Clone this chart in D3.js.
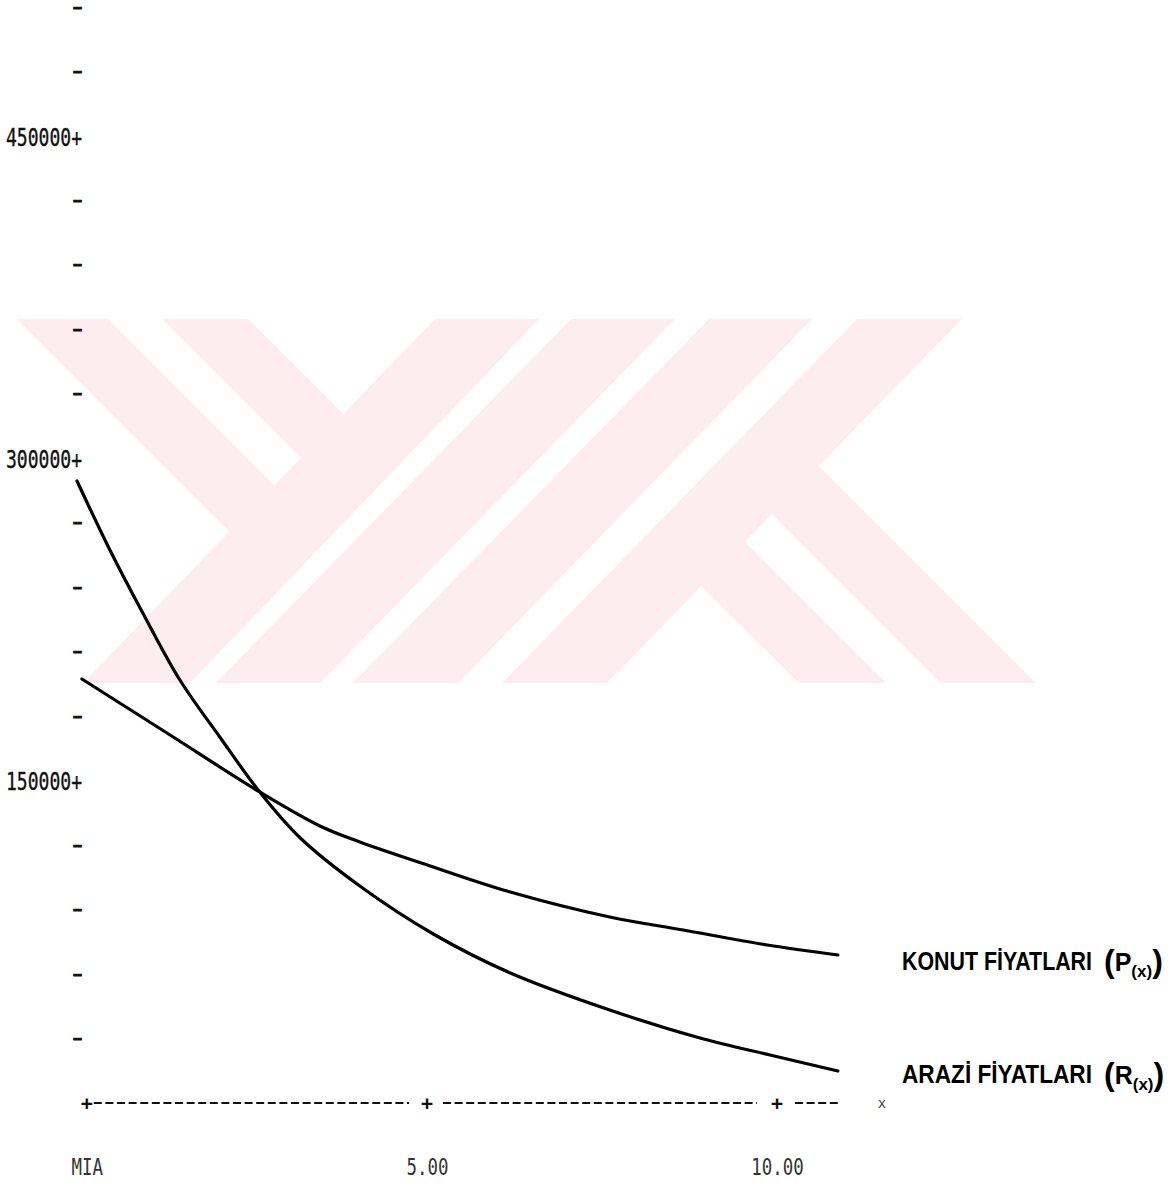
<!DOCTYPE html>
<html>
<head>
<meta charset="utf-8">
<script src="https://cdn.jsdelivr.net/npm/d3@7/dist/d3.min.js"></script>
<style>
  html, body { margin: 0; padding: 0; background: #ffffff; }
  svg { display: block; }
</style>
</head>
<body>
<svg id="chart" width="1176" height="1186"></svg>
<script>
// ---- data ----
const xTickValues = [0.14, 5, 10];
const xTickLabels = ["MIA", "5.00", "10.00"];
const yTickValues = [30000, 60000, 90000, 120000, 150000, 180000, 210000, 240000, 270000,
                     300000, 330000, 360000, 390000, 420000, 450000, 480000, 510000];
const yLabelledTicks = [150000, 300000, 450000];

// ARAZİ FİYATLARI  R(x)
const landX = [0.0, 0.47, 0.94, 1.47, 2.04, 2.61, 3.19, 4.04, 5.09, 6.19, 7.61, 8.9, 9.9, 10.87];
const landY = [289450, 257350, 228030, 196850, 170320, 144730, 123320, 100980, 78650, 60500, 43280, 30250, 22340, 14890];

// KONUT FİYATLARI  P(x)
const housingX = [0.07, 1.33, 2.61, 3.47, 4.04, 5.09, 6.19, 7.61, 8.66, 9.86, 10.87];
const housingY = [197310, 171250, 144730, 128900, 121460, 109820, 98190, 86560, 80510, 73530, 68870];

const seriesNames = ["KONUT FİYATLARI", "ARAZİ FİYATLARI"];
const seriesSymbols = ["P", "R"];

// ---- scales ----
const svg = d3.select("#chart");
const x = d3.scaleLinear().domain([0, 10]).range([77, 777]);
const y = d3.scaleLinear().domain([0, 450000]).range([1103, 136]);

// ---- watermark (background logo) ----
const wm = svg.append("g").attr("fill", "#fdecf0");
const wmPolys = [
  [[17,319],[108,319],[301,512],[256,558]],
  [[162,319],[248,319],[370,440],[327,484]],
  [[435,319],[539,319],[190,683],[83,683]],
  [[571,319],[675,319],[320,683],[216,683]],
  [[709,319],[812,319],[458,683],[353,683]],
  [[857,319],[962,319],[607,683],[502,683]],
  [[799,683],[886,683],[719,516],[676,561]],
  [[941,683],[1036,683],[793,440],[746,488]]
];
wm.selectAll("path").data(wmPolys).join("path")
  .attr("d", p => "M" + p.map(q => q.join(",")).join("L") + "Z");

const monoFont = "'DejaVu Sans Mono', 'Liberation Mono', monospace";

// ---- y axis ----
const yAxis = d3.axisLeft(y)
  .tickValues(yTickValues)
  .tickSize(0)
  .tickPadding(0)
  .tickFormat(d => yLabelledTicks.includes(d) ? d + "+" : "-");
const gy = svg.append("g").attr("transform", "translate(82,0)").call(yAxis);
gy.select(".domain").remove();
gy.selectAll(".tick text").each(function(d) {
  const t = d3.select(this).attr("fill", "#111");
  if (yLabelledTicks.includes(d)) {
    t.attr("dy", "0.36em")
      .style("font-family", monoFont)
      .style("font-size", "25px")
      .attr("stroke", "#111").attr("stroke-width", 0.35)
      .attr("textLength", 76).attr("lengthAdjust", "spacingAndGlyphs");
  } else {
    t.attr("dy", "0.29em")
      .style("font-family", "'Liberation Sans', Arial, sans-serif")
      .style("font-size", "14px")
      .style("font-weight", "bold")
      .attr("stroke", "#111").attr("stroke-width", 1)
      .attr("textLength", 9).attr("lengthAdjust", "spacingAndGlyphs");
  }
});

// ---- x axis ----
const axisY = y(0);
const segs = [
  [x(xTickValues[0]) + 7, x(xTickValues[1]) - 18],
  [x(xTickValues[1]) + 16, x(xTickValues[2]) - 20],
  [x(xTickValues[2]) + 18, x(10.9)]
];
svg.append("g").selectAll("line").data(segs).join("line")
  .attr("x1", d => d[0]).attr("x2", d => d[1])
  .attr("y1", axisY).attr("y2", axisY)
  .attr("stroke", "#111").attr("stroke-width", 2.2)
  .attr("stroke-dasharray", "8,3.6");
svg.append("g").selectAll("text").data(xTickValues).join("text")
  .attr("x", d => x(d)).attr("y", axisY)
  .attr("dy", "0.35em")
  .attr("text-anchor", "middle")
  .style("font-family", monoFont)
  .style("font-size", "20px")
  .style("font-weight", "bold")
  .attr("fill", "#111")
  .text("+");
svg.append("text")
  .attr("x", 882).attr("y", axisY).attr("dy", "0.35em")
  .attr("text-anchor", "middle")
  .style("font-family", monoFont).style("font-size", "14px")
  .attr("fill", "#444").text("x");

const xAxis = d3.axisBottom(x)
  .tickValues(xTickValues)
  .tickSize(0)
  .tickPadding(0)
  .tickFormat((d, i) => xTickLabels[i]);
const gx = svg.append("g").attr("transform", "translate(0,1159)").call(xAxis);
gx.select(".domain").remove();
gx.selectAll("text")
  .attr("fill", "#333")
  .attr("dy", "0.71em")
  .style("font-family", monoFont)
  .style("font-size", "23px")
  .each(function(d, i) {
    const n = xTickLabels[i].length;
    d3.select(this).attr("textLength", n * 10.5).attr("lengthAdjust", "spacingAndGlyphs");
  });

// ---- curves ----
const lineGen = d3.line()
  .x(d => x(d[0])).y(d => y(d[1]))
  .curve(d3.curveCatmullRom.alpha(0.5));
const seriesData = [
  d3.zip(housingX, housingY),
  d3.zip(landX, landY)
];
svg.append("g").selectAll("path").data(seriesData).join("path")
  .attr("d", lineGen)
  .attr("fill", "none")
  .attr("stroke", "#000")
  .attr("stroke-width", 3.2)
  .attr("stroke-linecap", "round")
  .attr("stroke-linejoin", "round");

// ---- series labels at line ends ----
const handFont = "'Liberation Sans', Arial, sans-serif";
const labY = [970, 1083];
const lab = svg.append("g").selectAll("g").data(seriesNames).join("g")
  .attr("transform", (d, i) => `translate(902,${labY[i]})`);
lab.append("g").attr("transform", "scale(1,1.2)")
  .append("text")
  .attr("x", 0).attr("y", 0)
  .style("font-family", handFont)
  .style("font-size", "21px")
  .style("font-weight", "bold")
  .attr("fill", "#000")
  .attr("textLength", 190).attr("lengthAdjust", "spacingAndGlyphs")
  .text(d => d);
const sym = lab.append("text")
  .attr("x", 202).attr("y", 2)
  .style("font-family", handFont)
  .style("font-weight", "bold")
  .attr("fill", "#000");
sym.append("tspan").style("font-size", "32px").text("(");
sym.append("tspan").style("font-size", "25px").attr("dy", -1).text((d, i) => seriesSymbols[i]);
sym.append("tspan").style("font-size", "17px").attr("dy", 6).text("(x)");
sym.append("tspan").style("font-size", "32px").attr("dy", -5).text(")");
</script>
</body>
</html>
